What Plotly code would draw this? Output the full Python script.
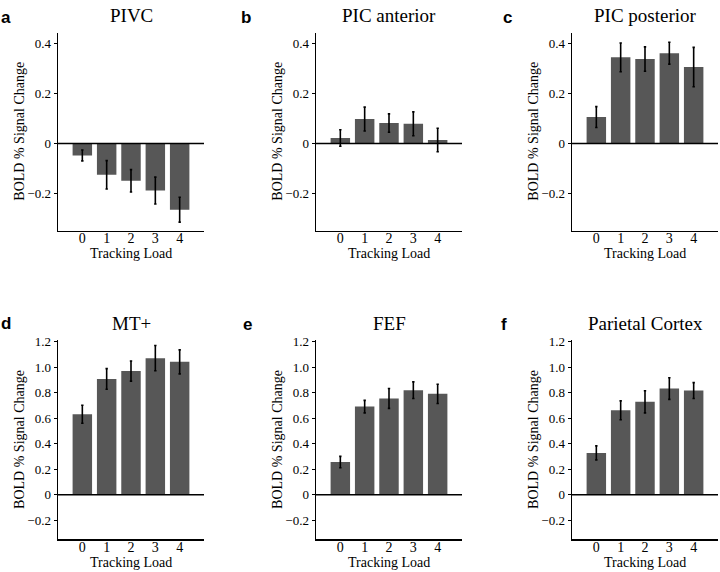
import plotly.graph_objects as go

loads = ["0", "1", "2", "3", "4"]
panel_letters = ["a", "b", "c", "d", "e", "f"]
panel_titles = ["PIVC", "PIC anterior", "PIC posterior", "MT+", "FEF", "Parietal Cortex"]

pivc_mean = [-0.048, -0.126, -0.150, -0.189, -0.266]
pivc_err = [0.022, 0.057, 0.045, 0.054, 0.050]
pic_ant_mean = [0.022, 0.098, 0.082, 0.079, 0.014]
pic_ant_err = [0.033, 0.048, 0.037, 0.048, 0.047]
pic_post_mean = [0.106, 0.346, 0.339, 0.363, 0.307]
pic_post_err = [0.042, 0.058, 0.049, 0.044, 0.079]
mt_mean = [0.631, 0.908, 0.970, 1.071, 1.042]
mt_err = [0.071, 0.081, 0.079, 0.099, 0.094]
fef_mean = [0.256, 0.691, 0.755, 0.820, 0.791]
fef_err = [0.045, 0.049, 0.078, 0.065, 0.075]
par_mean = [0.328, 0.662, 0.729, 0.833, 0.817]
par_err = [0.055, 0.074, 0.087, 0.085, 0.062]

top_tickvals = [-0.2, 0, 0.2, 0.4]
top_ticktext = ["\u22120.2", "0", "0.2", "0.4"]
bot_tickvals = [-0.2, 0, 0.2, 0.4, 0.6, 0.8, 1.0, 1.2]
bot_ticktext = ["\u22120.2", "0", "0.2", "0.4", "0.6", "0.8", "1.0", "1.2"]

means = [pivc_mean, pic_ant_mean, pic_post_mean, mt_mean, fef_mean, par_mean]
errs = [pivc_err, pic_ant_err, pic_post_err, mt_err, fef_err, par_err]

W, H = 720, 572
# pixel geometry of each panel: (left, right, top, bottom)
col_px = [(58, 204), (316, 462), (572, 718)]
row_px = [(27, 227), (338, 539)]

serif = "Liberation Serif"
sans = "Liberation Sans"

fig = go.Figure()
layout = dict(
    width=W, height=H, margin=dict(l=0, r=0, t=0, b=0),
    paper_bgcolor="white", plot_bgcolor="white", showlegend=False,
    font=dict(family=serif, color="black"),
)
annotations = []
shapes = []

for i in range(6):
    r, c = divmod(i, 3)
    xl, xr = col_px[c]
    yt, yb = row_px[r]
    n = "" if i == 0 else str(i + 1)
    xa, ya = "x" + n, "y" + n
    fig.add_trace(go.Bar(
        x=[0, 1, 2, 3, 4], y=means[i], width=0.8,
        marker=dict(color="#575757", line=dict(width=0)),
        error_y=dict(type="data", array=errs[i], color="black", thickness=1.6, width=1.2),
        xaxis=xa, yaxis=ya, hoverinfo="skip",
    ))
    if r == 0:
        yrange, tv, tt = [-0.35, 0.445], top_tickvals, top_ticktext
    else:
        yrange, tv, tt = [-0.35, 1.21], bot_tickvals, bot_ticktext
    layout["xaxis" + n] = dict(
        domain=[xl / W, xr / W], range=[-1, 5], anchor=ya,
        tickvals=[0, 1, 2, 3, 4], ticktext=loads, ticks="",
        ticklabelstandoff=-6,
        showline=True, linecolor="black", linewidth=1.5,
        showgrid=False, zeroline=False, fixedrange=True,
        tickfont=dict(family=serif, size=14, color="black"),
    )
    layout["yaxis" + n] = dict(
        domain=[1 - yb / H, 1 - yt / H], range=yrange, anchor=xa,
        tickvals=tv, ticktext=tt, ticks="outside", ticklen=3, tickwidth=1,
        tickcolor="black",
        showline=True, linecolor="black", linewidth=1.5,
        showgrid=False, zeroline=False, fixedrange=True,
        tickfont=dict(family=serif, size=13, color="black"),
    )
    shapes.append(dict(type="line", xref=xa + " domain", yref=ya,
                       x0=0, x1=1, y0=0, y1=0,
                       line=dict(color="black", width=1.5)))
    cx = (xl + xr) / 2 / W
    # panel title
    annotations.append(dict(text=panel_titles[i], x=cx, y=1 - (yt - 17) / H,
                            xref="paper", yref="paper", showarrow=False,
                            xanchor="center", yanchor="middle",
                            font=dict(family=serif, size=19, color="black")))
    # x-axis title
    annotations.append(dict(text="Tracking Load", x=cx, y=1 - (yb + 23) / H,
                            xref="paper", yref="paper", showarrow=False,
                            xanchor="center", yanchor="middle",
                            font=dict(family=serif, size=14, color="black")))
    # y-axis title
    annotations.append(dict(text="BOLD % Signal Change", x=(xl - 38) / W,
                            y=1 - (yt + yb) / 2 / H,
                            xref="paper", yref="paper", showarrow=False,
                            xanchor="center", yanchor="middle", textangle=-90,
                            font=dict(family=serif, size=14, color="black")))

letter_pos = [(6, 12), (246, 12), (507, 12), (6, 321), (247, 322), (504, 322)]
for i, (lx, ly) in enumerate(letter_pos):
    annotations.append(dict(text="<b>%s</b>" % panel_letters[i], x=lx / W, y=1 - ly / H,
                            xref="paper", yref="paper", showarrow=False,
                            xanchor="center", yanchor="middle",
                            font=dict(family=sans, size=17, color="black")))

layout["annotations"] = annotations
layout["shapes"] = shapes
fig.update_layout(**layout)
fig.write_html("out.html", config={"displayModeBar": False, "staticPlot": True},
               post_script="document.body.style.margin='0px';document.body.style.overflow='hidden';")
